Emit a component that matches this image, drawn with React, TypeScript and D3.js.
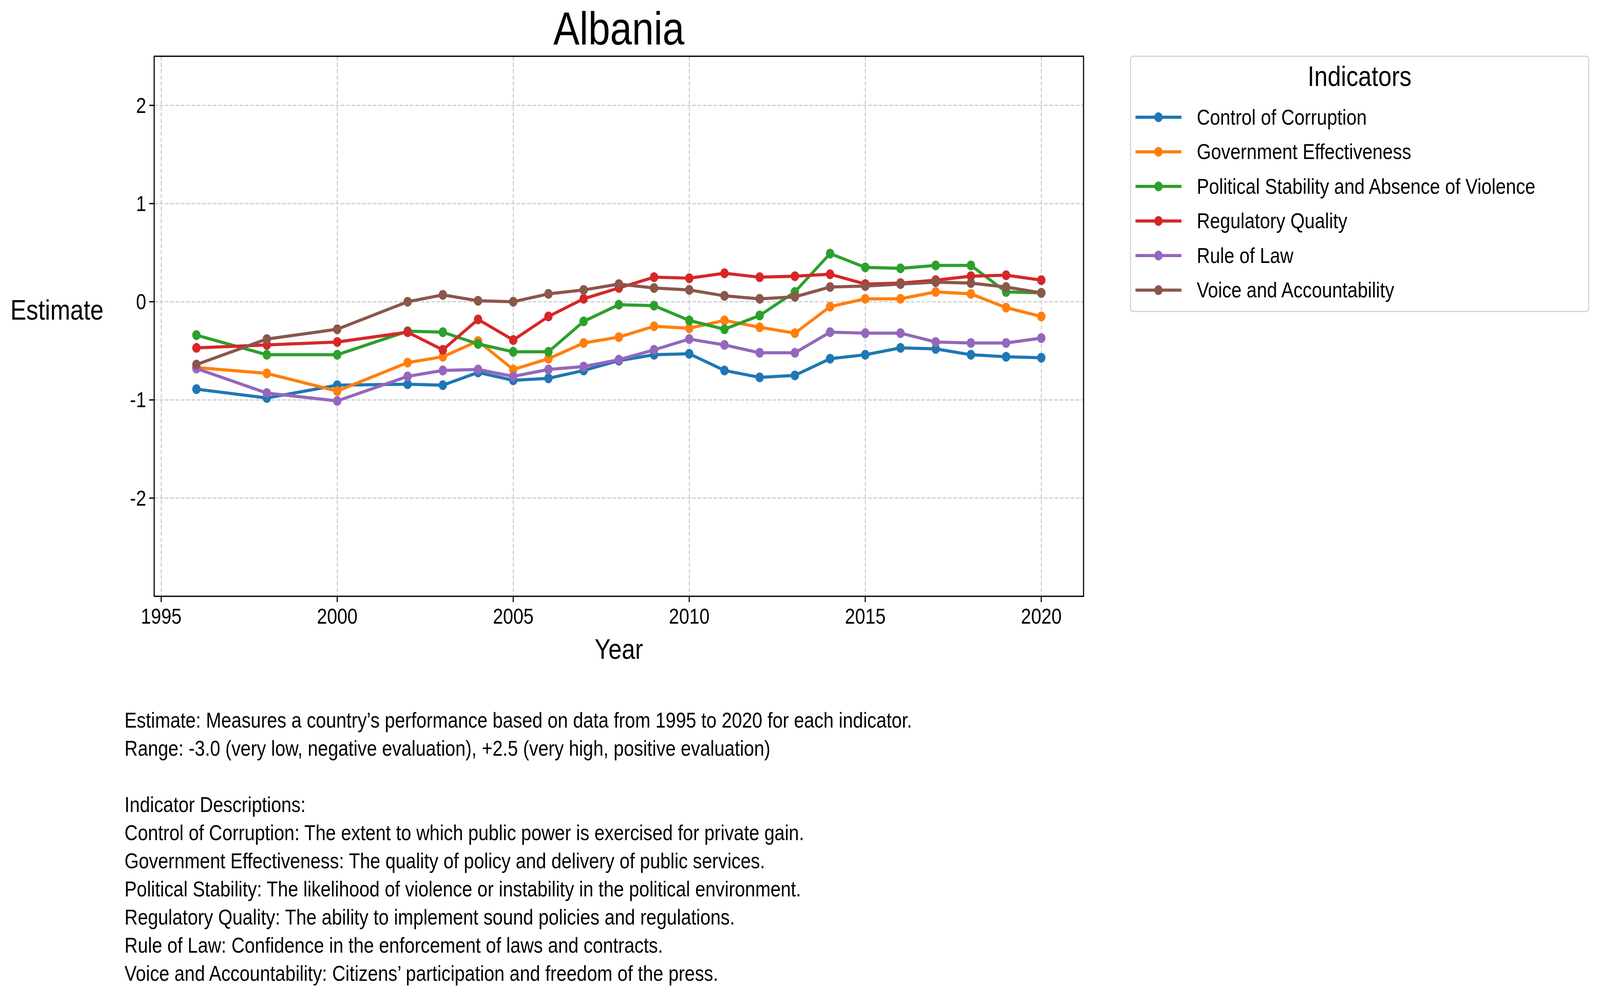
import React from "react";
import * as d3 from "d3";

const years = [1996, 1998, 2000, 2002, 2003, 2004, 2005, 2006, 2007, 2008, 2009, 2010, 2011, 2012, 2013, 2014, 2015, 2016, 2017, 2018, 2019, 2020];

const controlOfCorruption = [-0.89, -0.98, -0.85, -0.84, -0.85, -0.72, -0.8, -0.78, -0.7, -0.6, -0.54, -0.53, -0.7, -0.77, -0.75, -0.58, -0.54, -0.47, -0.48, -0.54, -0.56, -0.57];
const govEffectiveness = [-0.67, -0.73, -0.91, -0.62, -0.56, -0.4, -0.69, -0.58, -0.42, -0.36, -0.25, -0.27, -0.19, -0.26, -0.32, -0.05, 0.03, 0.03, 0.1, 0.08, -0.06, -0.15];
const politicalStability = [-0.34, -0.54, -0.54, -0.3, -0.31, -0.43, -0.51, -0.51, -0.2, -0.03, -0.04, -0.19, -0.28, -0.14, 0.1, 0.49, 0.35, 0.34, 0.37, 0.37, 0.1, 0.09];
const regulatoryQuality = [-0.47, -0.44, -0.41, -0.31, -0.49, -0.18, -0.39, -0.15, 0.03, 0.14, 0.25, 0.24, 0.29, 0.25, 0.26, 0.28, 0.18, 0.19, 0.22, 0.26, 0.27, 0.22];
const ruleOfLaw = [-0.68, -0.93, -1.01, -0.76, -0.7, -0.69, -0.76, -0.69, -0.66, -0.59, -0.49, -0.38, -0.44, -0.52, -0.52, -0.31, -0.32, -0.32, -0.41, -0.42, -0.42, -0.37];
const voiceAccountability = [-0.64, -0.38, -0.28, 0.0, 0.07, 0.01, 0.0, 0.08, 0.12, 0.18, 0.14, 0.12, 0.06, 0.03, 0.05, 0.15, 0.16, 0.18, 0.2, 0.19, 0.15, 0.09];

const seriesNames = [
  "Control of Corruption",
  "Government Effectiveness",
  "Political Stability and Absence of Violence",
  "Regulatory Quality",
  "Rule of Law",
  "Voice and Accountability",
];
const seriesValues = [controlOfCorruption, govEffectiveness, politicalStability, regulatoryQuality, ruleOfLaw, voiceAccountability];
const colors = ["#1f77b4", "#ff7f0e", "#2ca02c", "#d62728", "#9467bd", "#8c564b"];

const xTicks = [1995, 2000, 2005, 2010, 2015, 2020];
const yTicks = [-2, -1, 0, 1, 2];

const notes = [
  "Estimate: Measures a country\u2019s performance based on data from 1995 to 2020 for each indicator.",
  "Range: -3.0 (very low, negative evaluation), +2.5 (very high, positive evaluation)",
  "",
  "Indicator Descriptions:",
  "Control of Corruption: The extent to which public power is exercised for private gain.",
  "Government Effectiveness: The quality of policy and delivery of public services.",
  "Political Stability: The likelihood of violence or instability in the political environment.",
  "Regulatory Quality: The ability to implement sound policies and regulations.",
  "Rule of Law: Confidence in the enforcement of laws and contracts.",
  "Voice and Accountability: Citizens\u2019 participation and freedom of the press.",
];

const W = 4805;
const H = 2554;
const m = { left: 463, right: 3254, top: 144, bottom: 1526 };

export default function App() {
  const x = d3.scaleLinear().domain([1994.8, 2021.2]).range([m.left, m.right]);
  const y = d3.scaleLinear().domain([-3, 2.5]).range([m.bottom, m.top]);
  const line = d3
    .line<number>()
    .x((_, i) => x(years[i]))
    .y((d) => y(d));

  return (
    <svg
      viewBox={`0 0 ${W} ${H}`}
      preserveAspectRatio="none"
      style={{ position: "fixed", left: 0, top: 0, width: "100vw", height: "100vh", background: "#fff" }}
      fontFamily="'Liberation Sans', Arial, sans-serif"
    >
      {/* grid */}
      {xTicks.map((t) => (
        <line key={"gx" + t} x1={x(t)} x2={x(t)} y1={m.top} y2={m.bottom} stroke="#cccccc" strokeWidth={3} strokeDasharray="11,5" />
      ))}
      {yTicks.map((t) => (
        <line key={"gy" + t} x1={m.left} x2={m.right} y1={y(t)} y2={y(t)} stroke="#cccccc" strokeWidth={3} strokeDasharray="11,5" />
      ))}

      {/* series */}
      {seriesValues.map((vals, s) => (
        <g key={seriesNames[s]}>
          <path d={line(vals) || ""} fill="none" stroke={colors[s]} strokeWidth={8} strokeLinejoin="round" />
          {vals.map((v, i) => (
            <circle key={i} cx={x(years[i])} cy={y(v)} r={12.5} fill={colors[s]} />
          ))}
        </g>
      ))}

      {/* frame */}
      <rect x={m.left} y={m.top} width={m.right - m.left} height={m.bottom - m.top} fill="none" stroke="#000" strokeWidth={3.3} />

      {/* ticks */}
      {xTicks.map((t) => (
        <g key={"tx" + t}>
          <line x1={x(t)} x2={x(t)} y1={m.bottom} y2={m.bottom + 15} stroke="#000" strokeWidth={3.3} />
          <text x={x(t)} y={m.bottom + 70} textAnchor="middle" fontSize={55}>{t}</text>
        </g>
      ))}
      {yTicks.map((t) => (
        <g key={"ty" + t}>
          <line x1={m.left - 15} x2={m.left} y1={y(t)} y2={y(t)} stroke="#000" strokeWidth={3.3} />
          <text x={m.left - 24} y={y(t) + 19} textAnchor="end" fontSize={55}>{t < 0 ? "-" + Math.abs(t) : t}</text>
        </g>
      ))}

      <text x={(m.left + m.right) / 2} y={114} textAnchor="middle" fontSize={118}>Albania</text>
      <text x={(m.left + m.right) / 2} y={1686} textAnchor="middle" fontSize={72}>Year</text>
      <text x={31} y={818} fontSize={72}>Estimate</text>

      {/* legend */}
      <rect x={3395} y={144} width={1376} height={653} fill="#fff" stroke="#d0d0d0" strokeWidth={3} rx={8} />
      <text x={4083} y={220} textAnchor="middle" fontSize={72}>Indicators</text>
      {seriesNames.map((name, i) => {
        const ly = 300 + i * 88.5;
        return (
          <g key={"lg" + name}>
            <line x1={3410} x2={3548} y1={ly} y2={ly} stroke={colors[i]} strokeWidth={8} />
            <circle cx={3479} cy={ly} r={12.5} fill={colors[i]} />
            <text x={3594} y={ly + 19} fontSize={55}>{name}</text>
          </g>
        );
      })}

      {/* notes */}
      {notes.map((n, i) => (
        <text key={"n" + i} x={374} y={1862 + i * 72} fontSize={55}>{n}</text>
      ))}
    </svg>
  );
}
